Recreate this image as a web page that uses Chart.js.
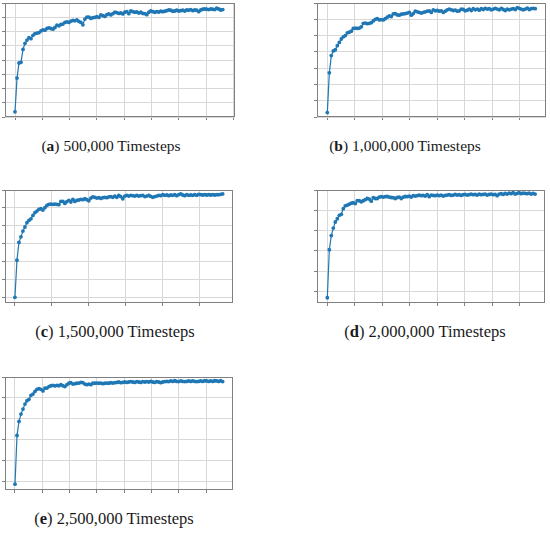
<!DOCTYPE html>
<html><head><meta charset="utf-8">
<script src="https://cdn.jsdelivr.net/npm/chart.js@4"></script>
<style>
html,body{margin:0;padding:0;background:#fff;}
body{width:550px;height:533px;position:relative;overflow:hidden;}
canvas{position:absolute;}
.cap{position:absolute;font-family:"Liberation Serif","Times New Roman",serif;color:#1a1a1a;white-space:nowrap;transform:translate(-50%,-50%);}
</style></head><body>
<script>
// ---- data (reward per episode; y in grid units) ----
const rewardsA = [0.36,2.73,3.79,3.84,4.74,5.17,5.40,5.57,5.50,5.73,
5.85,5.88,5.92,6.04,6.11,6.09,6.21,6.26,6.21,6.16,
6.28,6.45,6.40,6.49,6.52,6.64,6.68,6.64,6.73,6.78,
6.75,6.82,6.71,6.64,6.47,6.87,7.01,7.01,6.92,6.97,
6.99,7.04,6.99,7.16,7.11,7.06,7.18,7.23,7.16,7.25,
7.35,7.32,7.27,7.30,7.23,7.35,7.39,7.25,7.44,7.39,
7.35,7.37,7.30,7.35,7.27,7.25,7.18,7.35,7.44,7.39,
7.35,7.39,7.37,7.42,7.39,7.42,7.46,7.51,7.49,7.42,
7.44,7.49,7.44,7.46,7.49,7.44,7.51,7.49,7.54,7.46,
7.51,7.49,7.39,7.51,7.56,7.58,7.56,7.54,7.58,7.56,
7.54,7.63,7.58,7.51,7.54];
const rewardsB = [0.27,2.71,3.77,4.06,4.13,4.38,4.58,4.79,4.92,5.00,
5.17,5.21,5.27,5.44,5.46,5.44,5.46,5.54,5.75,5.77,
5.73,5.75,5.79,5.90,6.00,6.04,5.96,5.98,5.96,6.04,
6.13,6.21,6.17,6.33,6.35,6.27,6.25,6.31,6.33,6.35,
6.38,6.42,6.25,6.35,6.50,6.46,6.42,6.38,6.42,6.46,
6.50,6.52,6.42,6.58,6.52,6.54,6.50,6.52,6.42,6.50,
6.58,6.63,6.58,6.54,6.56,6.50,6.52,6.63,6.60,6.52,
6.56,6.63,6.54,6.65,6.58,6.63,6.56,6.65,6.60,6.67,
6.63,6.65,6.58,6.63,6.67,6.63,6.58,6.67,6.60,6.54,
6.63,6.58,6.63,6.65,6.60,6.71,6.67,6.63,6.58,6.63,
6.69,6.60,6.65,6.67,6.65];
const rewardsC = [0.00,2.07,3.07,3.38,3.70,3.93,4.17,4.30,4.39,4.58,
4.73,4.82,4.92,4.95,4.88,5.01,5.14,5.20,5.21,5.20,
5.21,5.20,5.18,5.36,5.36,5.25,5.35,5.42,5.33,5.48,
5.36,5.42,5.44,5.48,5.46,5.51,5.46,5.40,5.55,5.61,
5.59,5.55,5.57,5.53,5.57,5.59,5.57,5.61,5.63,5.59,
5.66,5.59,5.70,5.63,5.51,5.66,5.70,5.66,5.70,5.68,
5.66,5.70,5.66,5.68,5.70,5.63,5.66,5.70,5.64,5.59,
5.63,5.66,5.70,5.68,5.74,5.70,5.72,5.68,5.72,5.70,
5.74,5.68,5.74,5.78,5.72,5.68,5.74,5.70,5.72,5.70,
5.74,5.70,5.76,5.74,5.72,5.74,5.72,5.74,5.72,5.74,
5.72,5.74,5.74,5.76,5.78];
const rewardsD = [-0.32,2.05,2.75,3.12,3.42,3.58,3.75,3.80,4.08,4.22,
4.25,4.30,4.35,4.37,4.33,4.48,4.47,4.42,4.47,4.52,
4.58,4.55,4.45,4.62,4.58,4.58,4.65,4.67,4.65,4.67,
4.68,4.65,4.63,4.62,4.58,4.63,4.65,4.58,4.65,4.68,
4.67,4.70,4.65,4.72,4.70,4.72,4.75,4.72,4.73,4.70,
4.77,4.67,4.75,4.73,4.72,4.75,4.72,4.75,4.70,4.73,
4.75,4.77,4.73,4.75,4.78,4.75,4.77,4.73,4.77,4.78,
4.75,4.77,4.80,4.77,4.78,4.75,4.80,4.77,4.78,4.80,
4.75,4.78,4.80,4.77,4.78,4.72,4.80,4.82,4.78,4.83,
4.80,4.85,4.82,4.87,4.80,4.83,4.87,4.82,4.85,4.83,
4.82,4.85,4.80,4.83,4.80];
const rewardsE = [-0.14,2.20,2.87,3.22,3.46,3.70,3.86,3.93,4.12,4.18,
4.31,4.41,4.44,4.41,4.33,4.47,4.47,4.54,4.58,4.60,
4.57,4.60,4.58,4.63,4.58,4.54,4.63,4.70,4.73,4.66,
4.68,4.70,4.71,4.74,4.73,4.66,4.63,4.66,4.63,4.70,
4.70,4.71,4.70,4.71,4.68,4.70,4.71,4.70,4.73,4.71,
4.73,4.74,4.76,4.73,4.74,4.76,4.74,4.76,4.78,4.76,
4.74,4.78,4.76,4.74,4.78,4.76,4.78,4.76,4.79,4.76,
4.74,4.78,4.76,4.73,4.76,4.78,4.79,4.78,4.81,4.79,
4.82,4.79,4.78,4.81,4.79,4.78,4.79,4.81,4.79,4.81,
4.79,4.78,4.79,4.81,4.79,4.82,4.81,4.79,4.81,4.79,
4.82,4.81,4.79,4.82,4.78];

const panelLetters = ["a","b","c","d","e"];
const panelTitles = ["500,000 Timesteps","1,000,000 Timesteps","1,500,000 Timesteps","2,000,000 Timesteps","2,500,000 Timesteps"];
const panelSeries = [rewardsA, rewardsB, rewardsC, rewardsD, rewardsE];

// ---- layout / axis configuration ----
const panels = [
  {box:[5,3,235,117],   xLeft:-0.366, xRight:8.05, xSpan:7.60, yMin:0,     yMax:8, cap:[111,146], fs:15.5},
  {box:[317,3,546,117], xLeft:-0.375, xRight:7.95, xSpan:7.56, yMin:0,     yMax:7, cap:[405,146], fs:15.5},
  {box:[5,190,233,303], xLeft:-0.27,  xRight:5.92, xSpan:5.64, yMin:-0.32, yMax:6, cap:[115,332], fs:16.5},
  {box:[317,190,545,303],xLeft:-0.375,xRight:7.92, xSpan:7.56, yMin:-0.58, yMax:5, cap:[425,332], fs:16.5},
  {box:[5,377,233,490], xLeft:-0.366, xRight:7.98, xSpan:7.60, yMin:-0.42, yMax:5, cap:[114,519], fs:16.5}
];

const frame = {
  id:'frame',
  afterDatasetsDraw(chart){
    const a = chart.chartArea, c = chart.ctx;
    c.save();
    c.strokeStyle = '#808080'; c.lineWidth = 1;
    c.strokeRect(Math.round(a.left)+0.5, Math.round(a.top)+0.5, Math.round(a.right-a.left)-1, Math.round(a.bottom-a.top)-1);
    c.restore();
  }
};

panels.forEach((p,i)=>{
  const series = panelSeries[i];
  const n = series.length;
  const step = (n-1)/p.xSpan;
  const [l,t,r,b] = p.box;
  const cv = document.createElement('canvas');
  const W = (r-l)+4+2, H = (b-t)+2+4;
  cv.width = W; cv.height = H;
  cv.style.left = (l-4)+'px'; cv.style.top = (t-2)+'px';
  cv.style.width = W+'px'; cv.style.height = H+'px';
  document.body.appendChild(cv);

  const cap = document.createElement('div');
  cap.className = 'cap';
  cap.style.left = p.cap[0]+'px'; cap.style.top = p.cap[1]+'px';
  cap.style.fontSize = p.fs+'px';
  cap.innerHTML = '(<b>'+panelLetters[i]+'</b>) '+panelTitles[i];
  document.body.appendChild(cap);

  const pts = series.map((v,k)=>({x:k, y:v}));
  new Chart(cv, {
    type:'line',
    data:{datasets:[{data:pts, borderColor:'#1f77b4', backgroundColor:'#1f77b4',
      borderWidth:1.2, pointRadius:1.9, pointBorderWidth:0, pointHoverRadius:1.9, tension:0, fill:false}]},
    options:{
      responsive:false, animation:false, devicePixelRatio:1,
      layout:{padding:{top:2,right:2,left:0,bottom:0}},
      plugins:{legend:{display:false}, tooltip:{enabled:false}},
      events:[],
      scales:{
        x:{type:'linear', min:p.xLeft*step, max:p.xRight*step,
          afterBuildTicks(s){ const tk=[]; for(let k=0;k<=Math.floor(p.xRight);k++) tk.push({value:k*step}); s.ticks=tk; },
          afterFit(s){ s.height = 4; },
          ticks:{display:false},
          grid:{color:'#d8d8d8', lineWidth:1, drawTicks:true, tickLength:3, tickColor:'#808080'},
          border:{display:false}},
        y:{type:'linear', min:p.yMin, max:p.yMax,
          afterBuildTicks(s){ const tk=[]; for(let k=Math.ceil(p.yMin);k<=Math.floor(p.yMax);k++) tk.push({value:k}); s.ticks=tk; },
          afterFit(s){ s.width = 4; },
          ticks:{display:false},
          grid:{color:'#d8d8d8', lineWidth:1, drawTicks:true, tickLength:3, tickColor:'#808080'},
          border:{display:false}}
      }
    },
    plugins:[frame]
  });
});
</script>
</body></html>
